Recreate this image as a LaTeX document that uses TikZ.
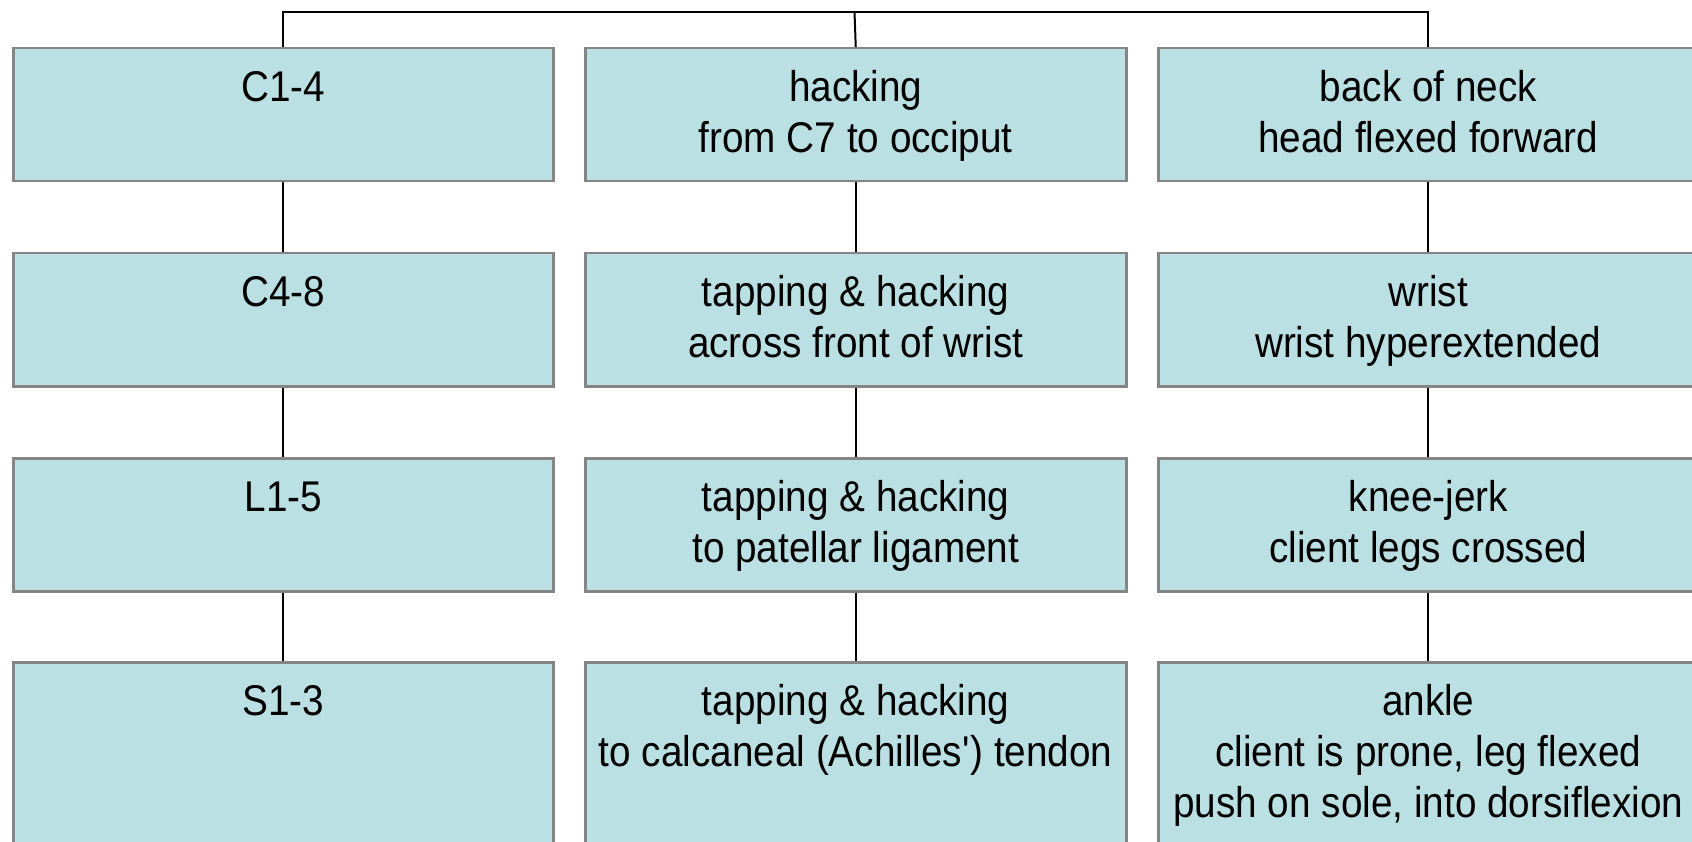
\documentclass[tikz,border=0pt]{standalone}
\usepackage{fontspec}
\setmainfont[FakeStretch=0.9]{Liberation Sans}
\definecolor{boxfill}{HTML}{BBE0E3}
\definecolor{boxline}{HTML}{858585}
% strut that fixes the height of the first line of every box text
\newcommand{\topstrut}{\rule{0pt}{34pt}}
\begin{document}
\begin{tikzpicture}[x=1pt,y=-1pt,
  box/.style={rectangle, draw=boxline, line width=2.5pt, fill=boxfill,
    anchor=north west, inner sep=0pt, minimum height=133pt},
  boxtext/.style={anchor=north, inner sep=0pt, align=center, yshift=-20pt,
    font=\fontsize{43}{51}\selectfont},
  link/.style={draw=black, line width=2pt}]
\clip (0,0) rectangle (1692,842);
\fill[white] (0,0) rectangle (1692,842);

\coordinate (bus) at (854.5,12);

% column 1: spinal segments
\node[box, minimum width=540pt] (a1) at (12,47) {};
\node[box, minimum width=540pt] (a2) at (12,252) {};
\node[box, minimum width=540pt] (a3) at (12,457) {};
\node[box, minimum width=540pt, minimum height=220pt] (a4) at (12,661) {};

% column 2: technique
\node[box, minimum width=541pt] (b1) at (584,47) {};
\node[box, minimum width=541pt] (b2) at (584,252) {};
\node[box, minimum width=541pt] (b3) at (584,457) {};
\node[box, minimum width=541pt, minimum height=220pt] (b4) at (584,661) {};

% column 3: reflex and position
\node[box, minimum width=540pt] (c1) at (1157,47) {};
\node[box, minimum width=540pt] (c2) at (1157,252) {};
\node[box, minimum width=540pt] (c3) at (1157,457) {};
\node[box, minimum width=540pt, minimum height=220pt] (c4) at (1157,661) {};

% connectors
\draw[link] (a1.north) |- (bus) -| (c1.north);
\draw[link] (bus) -- (b1.north);
\foreach \c in {a,b,c}{
  \draw[link] (\c1.south) -- (\c2.north);
  \draw[link] (\c2.south) -- (\c3.north);
  \draw[link] (\c3.south) -- (\c4.north);
}

% texts
\node[boxtext] (ta1) at (a1.north) {\topstrut C1-4};
\node[boxtext] (ta2) at (a2.north) {\topstrut C4-8};
\node[boxtext] (ta3) at (a3.north) {\topstrut L1-5};
\node[boxtext] (ta4) at (a4.north) {\topstrut S1-3};

\node[boxtext] (tb1) at (b1.north) {\topstrut hacking\\from C7 to occiput};
\node[boxtext] (tb2) at (b2.north) {\topstrut tapping \& hacking\\across front of wrist};
\node[boxtext] (tb3) at (b3.north) {\topstrut tapping \& hacking\\to patellar ligament};
\node[boxtext] (tb4) at (b4.north) {\topstrut tapping \& hacking\\to calcaneal (Achilles\textquotesingle) tendon};

\node[boxtext] (tc1) at (c1.north) {\topstrut back of neck\\head flexed forward};
\node[boxtext] (tc2) at (c2.north) {\topstrut wrist\\wrist hyperextended};
\node[boxtext] (tc3) at (c3.north) {\topstrut knee-jerk\\client legs crossed};
\node[boxtext] (tc4) at (c4.north) {\topstrut ankle\\client is prone, leg flexed\\push on sole, into dorsiflexion};
\end{tikzpicture}
\end{document}
